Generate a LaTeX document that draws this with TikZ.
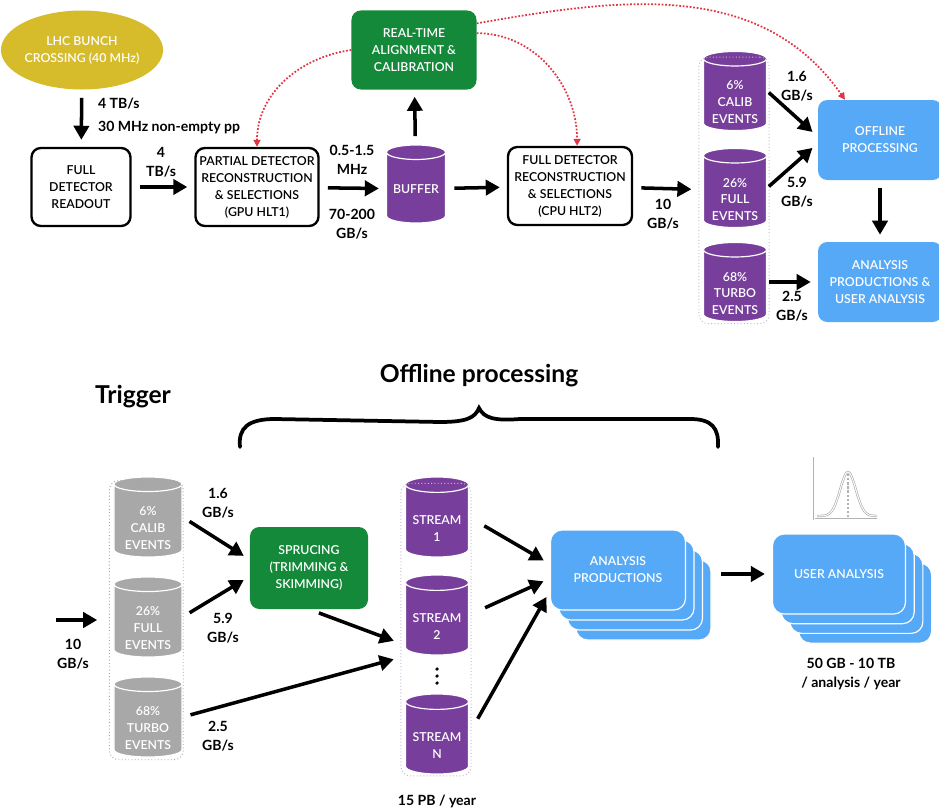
\documentclass[tikz,border=0pt]{standalone}
\usepackage{fontspec}
\setmainfont{Lato}[UprightFont={Lato Semibold}, BoldFont={Lato Bold}]
\usetikzlibrary{shapes.geometric, arrows.meta, positioning, fit, calc}

\definecolor{lhcgold}{HTML}{D6BB2B}
\definecolor{rtagreen}{HTML}{14893A}
\definecolor{evpurple}{HTML}{773F9B}
\definecolor{offblue}{HTML}{55A9F6}
\definecolor{evgrey}{HTML}{A8A8A8}
\definecolor{syncred}{HTML}{E03545}

% pushes the label of a storage drum below its lid
\newcommand{\lidgap}{\rule{0pt}{19pt}}

\begin{document}
\begin{tikzpicture}[
    x=0.03cm, y=-0.03cm,
    txt/.style={font=\fontsize{10.5}{14.5}\selectfont, align=center},
    box/.style={txt, rectangle, draw, line width=2pt, rounded corners=8pt, minimum height=2.34cm, fill=white},
    colbox/.style={txt, rectangle, rounded corners=8pt, text=white, minimum height=2.4cm},
    card/.style={colbox, fill=offblue, draw=white, line width=1pt, rounded corners=10pt},
    store/.style={txt, cylinder, shape border rotate=90, aspect=0.3, draw=white, line width=1pt,
        text=white, cylinder uses custom fill, cylinder body fill=#1, cylinder end fill=#1,
        minimum width=1.89cm, minimum height=2.25cm, inner sep=1pt, anchor=shape center},
    bunch/.style={rounded corners=8pt, draw=#1, line width=0.8pt, dotted, inner xsep=0.12cm, inner ysep=0.2cm},
    lbl/.style={font=\bfseries\fontsize{12}{16}\selectfont, align=center},
    arr/.style={line width=3pt, -{Triangle[length=12pt, width=13pt]}, shorten <=7pt, shorten >=6pt},
    sync/.style={syncred, line width=1.5pt, dash pattern=on 1.5pt off 1.5pt, -{Triangle[length=6pt, width=6pt]}},
    brace/.style={line width=3.2pt, line cap=round}
]
    \useasboundingbox (0,0) rectangle (939,809);

    % trigger chain
    \node[ellipse, txt, fill=lhcgold, text=white, minimum width=4.38cm, minimum height=2.37cm, inner sep=0pt] (lhc) at (82,50) {LHC BUNCH\\CROSSING (40 MHz)};
    \node[box, minimum width=2.97cm] (readout) at (81,187) {FULL\\DETECTOR\\READOUT};
    \node[box, minimum width=3.66cm] (hltone) at (257,187) {PARTIAL DETECTOR\\RECONSTRUCTION\\\& SELECTIONS\\(GPU HLT1)};
    \node[store=evpurple, minimum width=1.77cm, minimum height=2.34cm] (buffer) at (416,184) {BUFFER};
    \node[colbox, fill=rtagreen, minimum width=3.75cm, minimum height=2.37cm] (rta) at (414,50) {REAL-TIME\\ALIGNMENT \&\\CALIBRATION};
    \node[box, minimum width=3.72cm] (hlttwo) at (570,186) {FULL DETECTOR\\RECONSTRUCTION\\\& SELECTIONS\\(CPU HLT2)};
    \node[store=evpurple] (tcalib) at (735,91) {\lidgap 6\%\\CALIB\\EVENTS};
    \node[store=evpurple] (tfull) at (735,188) {\lidgap 26\%\\FULL\\EVENTS};
    \node[store=evpurple] (tturbo) at (735,282) {\lidgap 68\%\\TURBO\\EVENTS};
    \node[bunch=evpurple!40, fit=(tcalib.north west)(tturbo.south east)] (tstreams) {};
    \node[colbox, fill=offblue, minimum width=3.72cm] (offline) at (880,140) {OFFLINE\\PROCESSING};
    \node[colbox, fill=offblue, minimum width=3.72cm] (anaprod) at (880,282) {ANALYSIS\\PRODUCTIONS \&\\USER ANALYSIS};

    \draw[arr] (lhc) -- (readout);
    \draw[arr] (readout) -- (hltone);
    \draw[arr] (hltone) -- (buffer);
    \draw[arr] (buffer) -- (rta);
    \draw[arr] (buffer) -- (hlttwo);
    \draw[arr] (hlttwo) -- (tstreams);
    \draw[arr, shorten <=2pt] (tcalib.shape center -| tcalib.east) -- (offline.177);
    \draw[arr, shorten <=2pt] (tfull.shape center -| tfull.east) -- (offline.183);
    \draw[arr, shorten <=2pt] (tturbo.shape center -| tturbo.east) -- (tturbo.shape center -| anaprod.west);
    \draw[arr] (offline) -- (anaprod);

    \draw[sync] (rta.west) to[out=188, in=90] (hltone.north);
    \draw[sync] (rta.15) to[out=0, in=90] (hlttwo.80);
    \draw[sync] (rta.23) to[out=10, in=125] (offline.131);

    \node[lbl, align=left, anchor=west] (ratein) at (94,116) {4 TB/s\\[3pt]30 MHz non-empty pp};
    \node[lbl] (rateone) at (161,162) {4\\TB/s};
    \node[lbl] (ratetwo) at (352,160) {0.5-1.5\\MHz};
    \node[lbl] (ratethree) at (352,224) {70-200\\GB/s};
    \node[lbl] (ratefour) at (663,214) {10\\GB/s};
    \node[lbl] (ratecalib) at (797,86) {1.6\\GB/s};
    \node[lbl] (ratefull) at (797,192) {5.9\\GB/s};
    \node[lbl] (rateturbo) at (792,306) {2.5\\GB/s};

    % offline part
    \node[font=\bfseries\fontsize{21}{25}\selectfont] (offtitle) at (479,376) {Offline processing};
    \node[font=\bfseries\fontsize{21}{25}\selectfont] (trigtitle) at (133,397) {Trigger};
    \draw[brace] (240,447) .. controls (238,428) and (248,419) .. (275,419)
        -- (440,422) .. controls (466,422) and (475,418) .. (479,408)
        .. controls (484,418) and (494,421) .. (520,419)
        -- (690,419) .. controls (712,419) and (719,428) .. (718,447);

    \node[store=evgrey, minimum width=2.04cm, minimum height=2.4cm] (bcalib) at (148,517) {\lidgap 6\%\\CALIB\\EVENTS};
    \node[store=evgrey, minimum width=2.04cm, minimum height=2.4cm] (bfull) at (148,617) {\lidgap 26\%\\FULL\\EVENTS};
    \node[store=evgrey, minimum width=2.04cm, minimum height=2.4cm] (bturbo) at (148,717) {\lidgap 68\%\\TURBO\\EVENTS};
    \node[bunch=gray!70, fit=(bcalib.north west)(bturbo.south east)] (bstreams) {};
    \coordinate (bin) at (48,620);
    \node[colbox, fill=rtagreen, minimum width=3.54cm, minimum height=2.46cm] (spruce) at (309,568) {SPRUCING\\(TRIMMING \&\\SKIMMING)};

    \node[store=evpurple, minimum width=1.89cm, minimum height=2.4cm] (sone) at (437,517) {\lidgap STREAM\\1};
    \node[store=evpurple, minimum width=1.89cm, minimum height=2.4cm] (stwo) at (437,615) {\lidgap STREAM\\2};
    \node[store=evpurple, minimum width=1.89cm, minimum height=2.4cm] (sn) at (437,734) {\lidgap STREAM\\N};
    \foreach \k in {669,676,683}
        \fill (437,\k) circle (1.5pt);
    \node[bunch=evpurple!40, fit=(sone.north west)(sn.south east)] (sstreams) {};

    \foreach \i in {3,2,1}
        \node[card, minimum width=4.05cm] (ap\i) at (618+8.5*\i,570+10*\i) {};
    \node[card, minimum width=4.05cm] (ap) at (618,570) {ANALYSIS\\PRODUCTIONS};
    \foreach \i in {3,2,1}
        \node[card, minimum width=3.99cm] (ua\i) at (839+8.7*\i,574+9.7*\i) {};
    \node[card, minimum width=3.99cm] (ua) at (839,574) {USER ANALYSIS};

    \draw[arr, shorten >=10pt] (bin) -- (bin -| bstreams.west);
    \draw[arr] (bcalib.shape center -| bcalib.east) -- (spruce.172);
    \draw[arr] (bfull.shape center -| bfull.east) -- (spruce.188);
    \draw[arr, shorten <=9pt] (spruce.south) -- (sstreams.201);
    \draw[arr] (bturbo.shape center -| bturbo.east) -- (sstreams.218);
    \draw[arr, shorten <=15pt] (sone.shape center -| sone.east) -- (ap.175);
    \draw[arr, shorten <=15pt] (stwo.shape center -| stwo.east) -- (ap.187);
    \draw[arr, shorten <=15pt] (sn.shape center -| sn.east) -- (ap.197);
    \draw[arr, shorten <=8pt] (ap3.east |- ua) -- (ua.west);

    \node[lbl] (ratebin) at (73,654) {10\\GB/s};
    \node[lbl] (ratebcalib) at (218,503) {1.6\\GB/s};
    \node[lbl] (ratebfull) at (223,628) {5.9\\GB/s};
    \node[lbl] (ratebturbo) at (218,736) {2.5\\GB/s};
    \node[lbl] (storage) at (437,801) {15 PB / year};
    \node[lbl] (usersize) at (851,674) {50 GB - 10 TB\\/ analysis / year};

    % fit icon
    \draw[gray!60, double=white, double distance=0.8pt, line width=0.6pt] (814,457) -- (814,519) -- (877,519);
    \draw[gray!60, double=white, double distance=0.8pt, line width=0.6pt]
        plot[domain=-31:29, samples=50, smooth] ({848+\x},{516-44*exp(-(\x/11)^2)});
    \draw[gray!60, line width=1pt, dash pattern=on 2pt off 1.5pt] (848,474) -- (848,519);
\end{tikzpicture}
\end{document}
